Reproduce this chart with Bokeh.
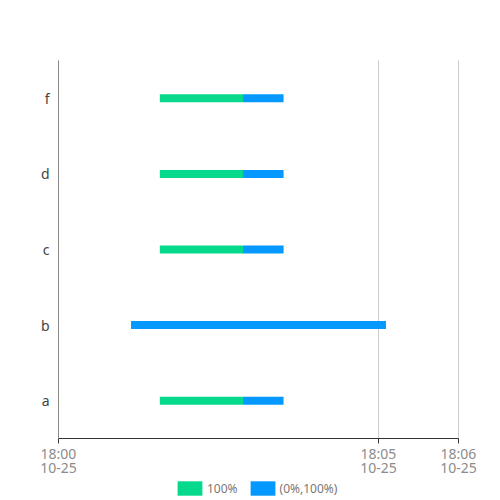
from datetime import datetime
from bokeh.plotting import figure
from bokeh.models import ColumnDataSource, Range1d, FactorRange, FixedTicker, Legend, LegendItem
from bokeh.embed import file_html
from bokeh.resources import INLINE

categories = ["a", "b", "c", "d", "f"]

# Segment "100%" (green)
green_cat = ["a", "c", "d", "f"]
green_start = ["2023-10-25 18:01:35"] * 4
green_end = ["2023-10-25 18:02:53"] * 4

# Segment "(0%,100%)" (blue)
blue_cat = ["a", "b", "c", "d", "f"]
blue_start = ["2023-10-25 18:02:53", "2023-10-25 18:01:08", "2023-10-25 18:02:53", "2023-10-25 18:02:53", "2023-10-25 18:02:53"]
blue_end = ["2023-10-25 18:03:31", "2023-10-25 18:05:07", "2023-10-25 18:03:31", "2023-10-25 18:03:31", "2023-10-25 18:03:31"]

axis_min = "2023-10-25 18:00:00"
axis_max = "2023-10-25 18:06:15"
tick_times = ["2023-10-25 18:00:00", "2023-10-25 18:05:00", "2023-10-25 18:06:15"]
tick_labels = ["18:00\n10-25", "18:05\n10-25", "18:06\n10-25"]

GREEN = "#05D98B"
BLUE = "#0599FF"
FONT = "Noto Sans"
BAND_PX = 75.6
PAD_PX = 60
AXIS_W_PX = 400
LEFT_PX = 58
RIGHT_PX = 34

def dt(s):
    return datetime.strptime(s, "%Y-%m-%d %H:%M:%S")

def ms(s):
    return (dt(s) - datetime(1970, 1, 1)).total_seconds() * 1000.0

n = len(categories)
y_range = FactorRange(factors=categories, range_padding=PAD_PX / BAND_PX, range_padding_units="absolute")
per_px = (ms(axis_max) - ms(axis_min)) / AXIS_W_PX
x_range = Range1d(ms(axis_min) - LEFT_PX * per_px, ms(axis_max) + RIGHT_PX * per_px)

p = figure(frame_width=LEFT_PX + AXIS_W_PX + RIGHT_PX, frame_height=int(round(BAND_PX * n + 2 * PAD_PX)),
           x_range=x_range, y_range=y_range,
           x_axis_type="datetime", output_backend="svg", toolbar_location=None,
           min_border_left=0, min_border_right=0, min_border_top=0, min_border_bottom=0)

# vertical grid lines spanning only the category bands
gridsrc = ColumnDataSource(dict(x=[dt(s) for s in tick_times], y0=[0.0] * len(tick_times), y1=[float(n)] * len(tick_times)))
p.segment(x0="x", x1="x", y0="y0", y1="y1", source=gridsrc, line_color="#cccccc", line_width=1)

gsrc = ColumnDataSource(dict(y=green_cat, left=[dt(s) for s in green_start], right=[dt(s) for s in green_end]))
bsrc = ColumnDataSource(dict(y=blue_cat, left=[dt(s) for s in blue_start], right=[dt(s) for s in blue_end]))

rg = p.hbar(y="y", left="left", right="right", height=8 / BAND_PX, source=gsrc, color=GREEN, line_width=0)
rb = p.hbar(y="y", left="left", right="right", height=8 / BAND_PX, source=bsrc, color=BLUE, line_width=0)

p.outline_line_color = None
p.background_fill_color = "white"
p.border_fill_color = "white"
p.xgrid.grid_line_color = None
p.ygrid.grid_line_color = None

tv = [ms(s) for s in tick_times]
p.xaxis.fixed_location = 0.0
p.xaxis.bounds = (ms(axis_min), ms(axis_max))
p.xaxis.ticker = FixedTicker(ticks=tv)
p.xaxis.major_label_overrides = {v: l for v, l in zip(tv, tick_labels)}
p.xaxis.axis_line_color = "#333333"
p.xaxis.major_tick_line_color = "#333333"
p.xaxis.major_tick_out = 5
p.xaxis.major_tick_in = 0
p.xaxis.minor_tick_line_color = None
p.xaxis.major_label_text_color = "#8c8c8c"
p.xaxis.major_label_text_font = FONT
p.xaxis.major_label_text_font_size = "14px"
p.xaxis.major_label_text_line_height = 0.75
p.xaxis.major_label_standoff = 0

p.yaxis.fixed_location = ms(axis_min)
p.yaxis.bounds = (0, n)
p.yaxis.axis_line_color = "#8a8a8a"
p.yaxis.major_tick_line_color = None
p.yaxis.major_tick_out = 0
p.yaxis.major_tick_in = 0
p.yaxis.minor_tick_line_color = None
p.yaxis.major_label_text_color = "#444444"
p.yaxis.major_label_text_font = FONT
p.yaxis.major_label_text_font_size = "14px"
p.yaxis.major_label_standoff = 9

legend = Legend(items=[LegendItem(label="100%", renderers=[rg]),
                       LegendItem(label="(0%,100%)", renderers=[rb])],
                orientation="horizontal", location=(174, 1),
                glyph_width=31, glyph_height=18, label_standoff=2, spacing=9,
                padding=0, margin=0, border_line_color=None, background_fill_alpha=0,
                label_text_font=FONT, label_text_font_size="12px", label_text_color="#777777",
                label_height=18)
p.add_layout(legend, "center")

open("out.html", "w").write(file_html(p, INLINE))
